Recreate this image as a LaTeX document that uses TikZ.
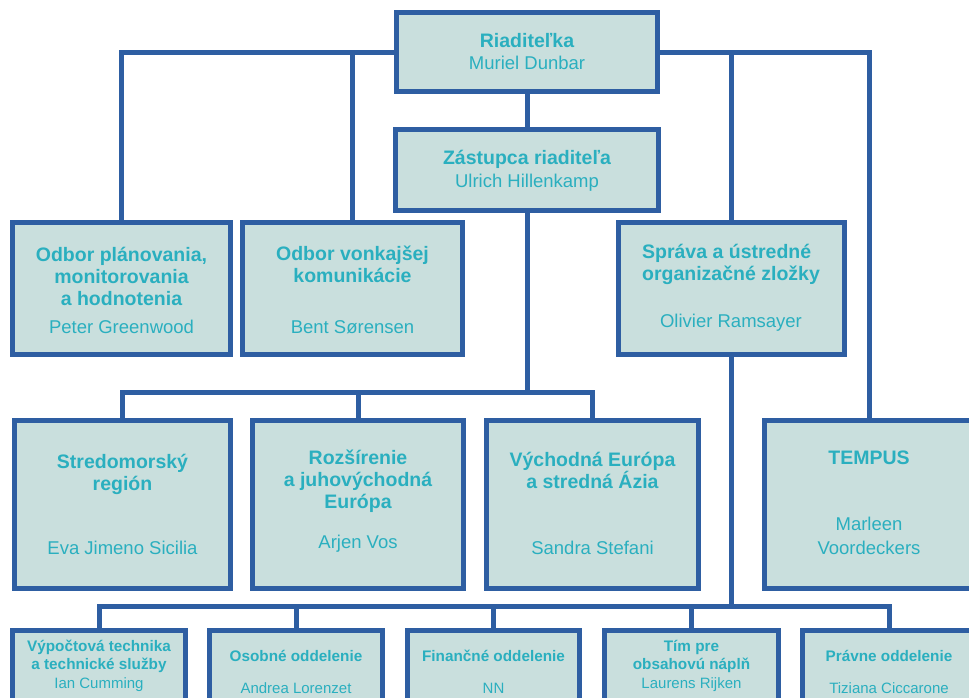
\documentclass[tikz,border=0pt]{standalone}
\usepackage{fontspec}
\setmainfont{Liberation Sans}
\definecolor{bordc}{HTML}{2E5EA2}
\definecolor{fillc}{HTML}{C9DFDD}
\definecolor{txtc}{HTML}{2AAFBF}
\newcommand\obx[5]{\node[obox, minimum width={#4-#2-5}, minimum height={#5-#3-5}] (#1) at ({(#2+#4)/2},{(#3+#5)/2}) {};}
\tikzset{
  obox/.style={draw=bordc, line width=5pt, fill=fillc, inner sep=0pt, rectangle},
  hd/.style={text=txtc, font=\bfseries\fontsize{19.5}{22}\selectfont, align=center, inner sep=0pt},
  nm/.style={text=txtc, font=\fontsize{18.5}{24}\selectfont, align=center, inner sep=0pt},
  hds/.style={text=txtc, font=\bfseries\fontsize{15.3}{18}\selectfont, align=center, inner sep=0pt},
  nms/.style={text=txtc, font=\fontsize{15}{18}\selectfont, align=center, inner sep=0pt},
  ln/.style={draw=bordc, line width=5pt}
}
\begin{document}
\begin{tikzpicture}[x=1pt,y=-1pt]
\useasboundingbox (0,0) rectangle (969,697);
\clip (0,0) rectangle (969,697);
\fill[white] (0,0) rectangle (969,697);
% boxes
\obx{dir}{394}{10}{660}{94}
\obx{dep}{393}{127}{661}{213}
\obx{plan}{10}{220}{233}{357}
\obx{ext}{240}{220}{465}{357}
\obx{adm}{616}{220}{847}{357}
\obx{med}{12}{418}{233}{591}
\obx{enl}{250}{418}{466}{591}
\obx{east}{484}{418}{701}{591}
\obx{tempus}{762}{418}{976}{591}
\obx{it}{10}{628}{188}{720}
\obx{hr}{207}{628}{385}{720}
\obx{fin}{405}{628}{582}{720}
\obx{con}{602}{628}{781}{720}
\obx{leg}{800}{628}{978}{720}
% connectors
\coordinate (j3) at (527,392);
\coordinate (j4) at (731,606);
\draw[ln] (dir.west) -| (plan.north);
\draw[ln] (dir.east) -| (tempus.north);
\draw[ln] (ext.north) -- (ext.north |- dir.west);
\draw[ln] (adm.north) -- (adm.north |- dir.east);
\draw[ln] (dir.south) -- (dep.north);
\draw[ln] (dep.south) -- (dep.south |- j3);
\draw[ln] (med.north) |- (east.north |- j3) -- (east.north);
\draw[ln] (enl.north) -- (enl.north |- j3);
\draw[ln] (adm.south) -- (adm.south |- j4);
\draw[ln] (it.north) |- (leg.north |- j4) -- (leg.north);
\draw[ln] (hr.north) -- (hr.north |- j4);
\draw[ln] (fin.north) -- (fin.north |- j4);
\draw[ln] (con.north) -- (con.north |- j4);
% texts
\node[hd] (tdir) at (527,41) {Riaditeľka};
\node[nm] (ndir) at (527,63) {Muriel Dunbar};
\node[hd] (tdep) at (527,159) {Zástupca riaditeľa};
\node[nm] (ndep) at (527,183) {Ulrich Hillenkamp};
\node[hd] (tplan) at (121.5,276.5) {Odbor plánovania,\\monitorovania\\a hodnotenia};
\node[nm] (nplan) at (121.5,327) {Peter Greenwood};
\node[hd] (text) at (352.5,264) {Odbor vonkajšej\\komunikácie};
\node[nm] (next) at (352.5,327) {Bent Sørensen};
\node[hd, align=left] (tadm) at (731,264) {Správa a ústredné\\organizačné zložky};
\node[nm] (nadm) at (731,323) {Olivier Ramsayer};
\node[hd] (ttempus) at (869,458) {TEMPUS};
\node[nm] (ntempus) at (869,536) {Marleen\\Voordeckers};
\node[hd] (tmed) at (122.5,474) {Stredomorský\\región};
\node[nm] (nmed) at (122.5,548) {Eva Jimeno Sicilia};
\node[hd] (tenl) at (358,481) {Rozšírenie\\a juhovýchodná\\Európa};
\node[nm] (nenl) at (358,544) {Arjen Vos};
\node[hd] (teast) at (592.5,470) {Východná Európa\\a stredná Ázia};
\node[nm] (neast) at (592.5,548) {Sandra Stefani};
\node[hds] (tit) at (99,656) {Výpočtová technika\\a technické služby};
\node[nms] (nit) at (99,685) {Ian Cumming};
\node[hds] (thr) at (296,656) {Osobné oddelenie};
\node[nms] (nhr) at (296,688) {Andrea Lorenzet};
\node[hds] (tfin) at (493.5,656) {Finančné oddelenie};
\node[nms] (nfin) at (493.5,688) {NN};
\node[hds] (tcon) at (691.5,656.5) {Tím pre\\obsahovú náplň};
\node[nms] (ncon) at (691.5,685) {Laurens Rijken};
\node[hds] (tleg) at (889,656) {Právne oddelenie};
\node[nms] (nleg) at (889,688) {Tiziana Ciccarone};
\end{tikzpicture}
\end{document}
